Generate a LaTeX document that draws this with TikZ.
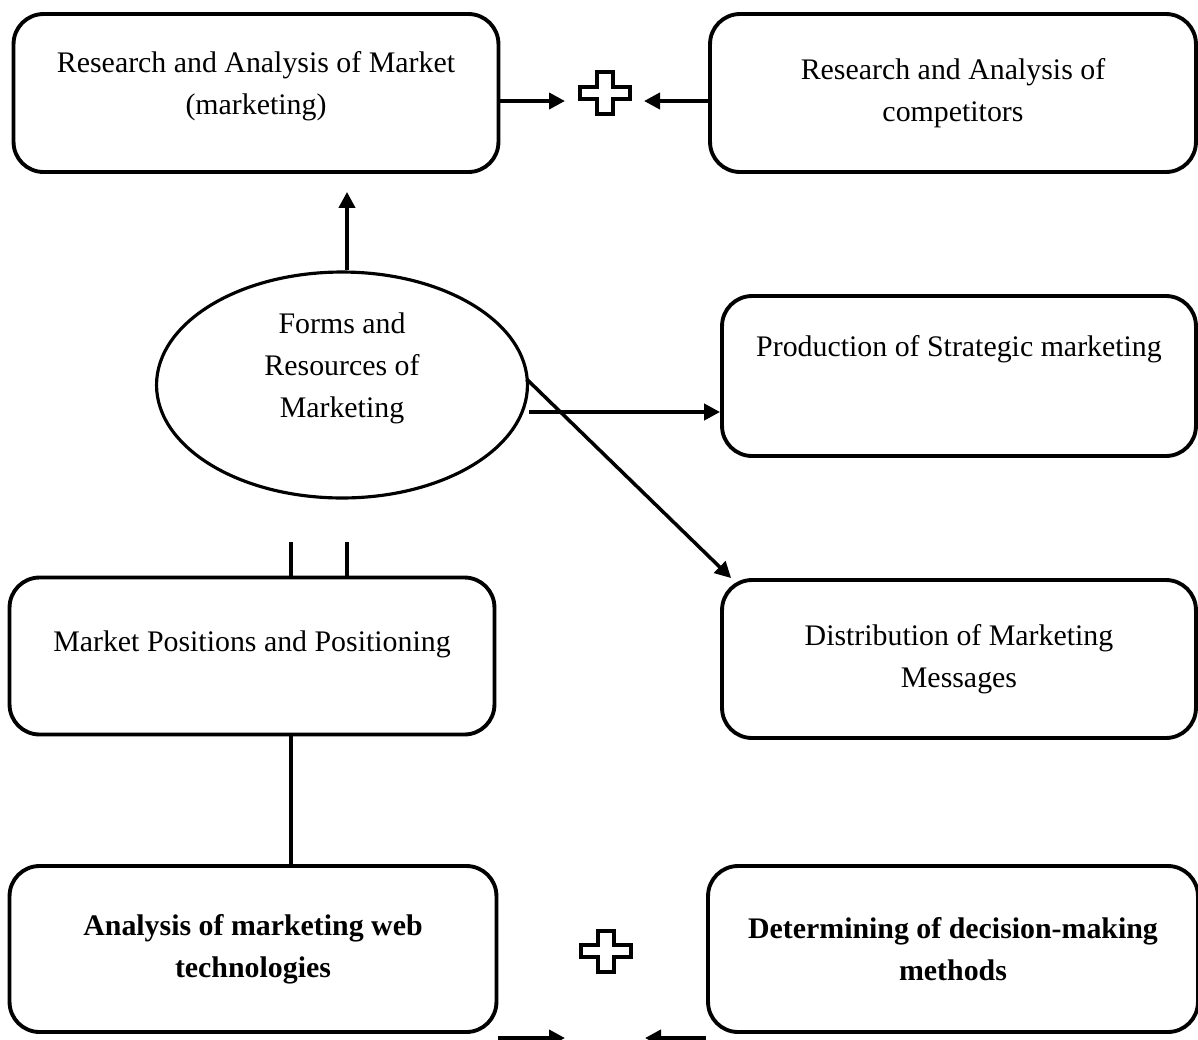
\documentclass[tikz,border=0pt]{standalone}
\usepackage{fontspec}
\setmainfont{Liberation Serif}
\usetikzlibrary{arrows.meta}
\usetikzlibrary{shapes.geometric}
\usetikzlibrary{calc}

\tikzset{
  box/.style={shape=rectangle, draw=black, line width=2.2pt, rounded corners=0.6cm, align=center, font=\fontsize{17}{24}\selectfont},
  oval/.style={shape=ellipse, draw=black, line width=1.8pt, align=center, inner sep=0pt, font=\fontsize{17}{24}\selectfont},
  arr/.style={line width=2.2pt, -{Triangle[length=0.32cm,width=0.32cm]}},
  plain/.style={line width=2.2pt}
}

\begin{document}
\begin{tikzpicture}[x=0.02cm, y=-0.02cm]
\useasboundingbox (0,0) rectangle (1198,1039);

\node[box, minimum width=9.7cm, minimum height=3.16cm, text depth=0.4cm](mkt) at (256,93) {Research and Analysis of Market\\(marketing)};
\node[box, minimum width=9.72cm, minimum height=3.16cm](comp) at (953,93) {Research and Analysis of\\competitors};
\node[oval, minimum width=7.42cm, minimum height=4.52cm, text depth=0.8cm](forms) at (342,385) {Forms and\\Resources of\\Marketing};
\node[box, minimum width=9.48cm, minimum height=3.2cm, text depth=1.2cm](prod) at (959,376) {Production of Strategic marketing};
\node[box, minimum width=9.48cm, minimum height=3.16cm](dist) at (959,659) {Distribution of Marketing\\Messages};
\node[box, minimum width=9.7cm, minimum height=3.14cm, text depth=0.6cm](pos) at (252,656) {Market Positions and Positioning};
\node[box, minimum width=9.74cm, minimum height=3.32cm, font=\fontsize{17}{24}\selectfont\bfseries](web) at (253,949) {Analysis of marketing web\\technologies};
\node[box, minimum width=9.8cm, minimum height=3.32cm, font=\fontsize{17}{24}\selectfont\bfseries](dec) at (953,949) {Determining of decision-making\\methods};

% plus signs
\draw[plain, line width=1.8pt] (597,72) -- (613,72) -- (613,87) -- (630,87) -- (630,99) -- (613,99) -- (613,114) -- (597,114) -- (597,99) -- (580,99) -- (580,87) -- (597,87) -- cycle;
\draw[plain, line width=1.8pt] (598,931) -- (614,931) -- (614,945) -- (631,945) -- (631,957) -- (614,957) -- (614,972) -- (598,972) -- (598,957) -- (581,957) -- (581,945) -- (598,945) -- cycle;

\coordinate (p1) at (565,101);
\coordinate (p2) at (644,101);
\coordinate (q1) at (565,1038);
\coordinate (q2) at (645,1038);

\draw[arr] (mkt.east |- p1) -- (p1);
\draw[arr] (comp.west |- p2) -- (p2);
\draw[arr] (web.east |- q1) -- (q1);
\draw[arr] (dec.west |- q2) -- (q2);

\draw[arr, shorten >=0.36cm] ([xshift=0.1cm]forms.north) -- ([xshift=0.1cm]forms.north |- mkt.south);
\draw[arr] ([yshift=-0.54cm]forms.east) -- ([yshift=-0.54cm]forms.east -| prod.west);
\draw[arr, line width=2pt] ([xshift=-0.05cm,yshift=0.12cm]forms.east) -- ([xshift=0.22cm]dist.north west);

\coordinate (l1) at (291,542);
\coordinate (l2) at (347,542);
\draw[plain] (l1) -- (l1 |- pos.north);
\draw[plain] (l2) -- (l2 |- pos.north);
\draw[plain] (l1 |- pos.south) -- (l1 |- web.north);
\end{tikzpicture}
\end{document}
